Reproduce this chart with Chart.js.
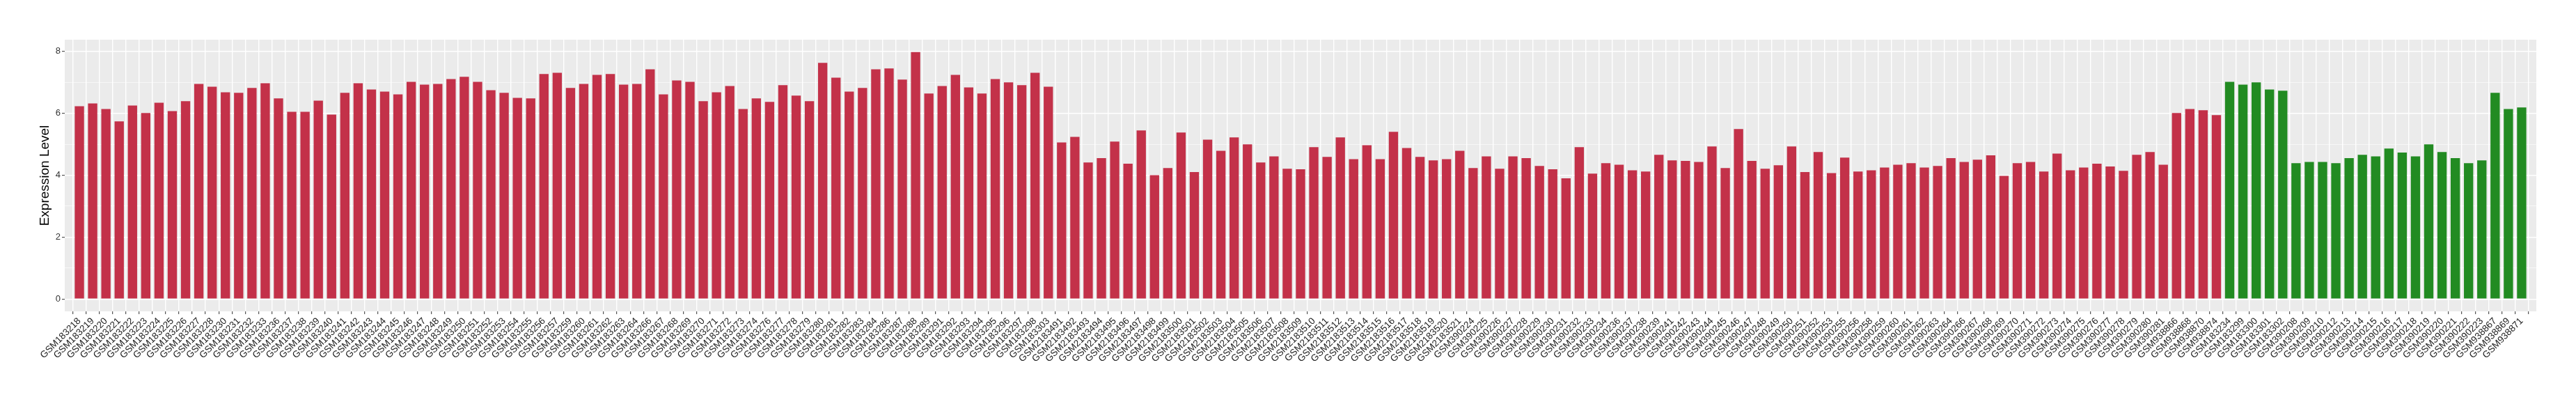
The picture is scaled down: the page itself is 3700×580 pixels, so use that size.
<!DOCTYPE html>
<html>
<head>
<meta charset="utf-8">
<script src="https://cdn.jsdelivr.net/npm/chart.js@4.4.0/dist/chart.umd.min.js"></script>
<style>
  html, body { margin: 0; padding: 0; background: #fff; }
  #wrap { width: 3700px; height: 580px; }
</style>
</head>
<body>
<div id="wrap"><canvas id="myChart" width="3700" height="580"></canvas></div>
<script>
const redSamples = [
    'GSM183218', 'GSM183219', 'GSM183220', 'GSM183221', 'GSM183222', 'GSM183223', 'GSM183224', 'GSM183225', 'GSM183226', 'GSM183227',
    'GSM183228', 'GSM183230', 'GSM183231', 'GSM183232', 'GSM183233', 'GSM183236', 'GSM183237', 'GSM183238', 'GSM183239', 'GSM183240',
    'GSM183241', 'GSM183242', 'GSM183243', 'GSM183244', 'GSM183245', 'GSM183246', 'GSM183247', 'GSM183248', 'GSM183249', 'GSM183250',
    'GSM183251', 'GSM183252', 'GSM183253', 'GSM183254', 'GSM183255', 'GSM183256', 'GSM183257', 'GSM183259', 'GSM183260', 'GSM183261',
    'GSM183262', 'GSM183263', 'GSM183264', 'GSM183266', 'GSM183267', 'GSM183268', 'GSM183269', 'GSM183270', 'GSM183271', 'GSM183272',
    'GSM183273', 'GSM183274', 'GSM183276', 'GSM183277', 'GSM183278', 'GSM183279', 'GSM183280', 'GSM183281', 'GSM183282', 'GSM183283',
    'GSM183284', 'GSM183286', 'GSM183287', 'GSM183288', 'GSM183289', 'GSM183291', 'GSM183292', 'GSM183293', 'GSM183294', 'GSM183295',
    'GSM183296', 'GSM183297', 'GSM183298', 'GSM183303', 'GSM2183491', 'GSM2183492', 'GSM2183493', 'GSM2183494', 'GSM2183495', 'GSM2183496',
    'GSM2183497', 'GSM2183498', 'GSM2183499', 'GSM2183500', 'GSM2183501', 'GSM2183502', 'GSM2183503', 'GSM2183504', 'GSM2183505', 'GSM2183506',
    'GSM2183507', 'GSM2183508', 'GSM2183509', 'GSM2183510', 'GSM2183511', 'GSM2183512', 'GSM2183513', 'GSM2183514', 'GSM2183515', 'GSM2183516',
    'GSM2183517', 'GSM2183518', 'GSM2183519', 'GSM2183520', 'GSM2183521', 'GSM390224', 'GSM390225', 'GSM390226', 'GSM390227', 'GSM390228',
    'GSM390229', 'GSM390230', 'GSM390231', 'GSM390232', 'GSM390233', 'GSM390234', 'GSM390236', 'GSM390237', 'GSM390238', 'GSM390239',
    'GSM390241', 'GSM390242', 'GSM390243', 'GSM390244', 'GSM390245', 'GSM390246', 'GSM390247', 'GSM390248', 'GSM390249', 'GSM390250',
    'GSM390251', 'GSM390252', 'GSM390253', 'GSM390255', 'GSM390256', 'GSM390258', 'GSM390259', 'GSM390260', 'GSM390261', 'GSM390262',
    'GSM390263', 'GSM390264', 'GSM390266', 'GSM390267', 'GSM390268', 'GSM390269', 'GSM390270', 'GSM390271', 'GSM390272', 'GSM390273',
    'GSM390274', 'GSM390275', 'GSM390276', 'GSM390277', 'GSM390278', 'GSM390279', 'GSM390280', 'GSM390281', 'GSM938866', 'GSM938868',
    'GSM938870', 'GSM938874'
];
const redValues = [
    6.23, 6.32, 6.14, 5.74, 6.25, 6.01, 6.34, 6.07, 6.39, 6.95,
    6.86, 6.68, 6.66, 6.82, 6.97, 6.48, 6.05, 6.05, 6.41, 5.96,
    6.66, 6.97, 6.77, 6.70, 6.61, 7.02, 6.93, 6.95, 7.11, 7.18,
    7.02, 6.75, 6.66, 6.50, 6.48, 7.27, 7.31, 6.82, 6.95, 7.24,
    7.27, 6.93, 6.95, 7.42, 6.61, 7.06, 7.02, 6.39, 6.68, 6.88,
    6.14, 6.48, 6.37, 6.91, 6.57, 6.39, 7.63, 7.15, 6.70, 6.82,
    7.42, 7.45, 7.09, 7.98, 6.64, 6.88, 7.24, 6.84, 6.64, 7.11,
    7.00, 6.91, 7.31, 6.86, 5.06, 5.24, 4.41, 4.55, 5.09, 4.37,
    5.45, 4.00, 4.23, 5.38, 4.10, 5.15, 4.79, 5.22, 5.00, 4.41,
    4.61, 4.21, 4.19, 4.91, 4.59, 5.22, 4.52, 4.97, 4.52, 5.40,
    4.88, 4.59, 4.48, 4.52, 4.79, 4.23, 4.61, 4.21, 4.61, 4.55,
    4.30, 4.19, 3.90, 4.91, 4.05, 4.39, 4.34, 4.16, 4.12, 4.66,
    4.48, 4.46, 4.43, 4.93, 4.23, 5.49, 4.46, 4.21, 4.32, 4.93,
    4.10, 4.75, 4.07, 4.57, 4.12, 4.16, 4.25, 4.34, 4.39, 4.25,
    4.30, 4.55, 4.43, 4.50, 4.64, 3.98, 4.39, 4.43, 4.12, 4.70,
    4.16, 4.25, 4.37, 4.28, 4.14, 4.66, 4.75, 4.34, 6.01, 6.14,
    6.10, 5.94
];
const greenSamples = [
    'GSM183234', 'GSM183299', 'GSM183300', 'GSM183301', 'GSM183302', 'GSM390208', 'GSM390209', 'GSM390210', 'GSM390212', 'GSM390213',
    'GSM390214', 'GSM390215', 'GSM390216', 'GSM390217', 'GSM390218', 'GSM390219', 'GSM390220', 'GSM390221', 'GSM390222', 'GSM390223',
    'GSM938867', 'GSM938869', 'GSM938871'
];
const greenValues = [
    7.02, 6.93, 7.00, 6.77, 6.73, 4.39, 4.43, 4.43, 4.39, 4.55,
    4.66, 4.61, 4.86, 4.73, 4.61, 5.00, 4.75, 4.55, 4.39, 4.48,
    6.66, 6.14, 6.19
];
const yTicks = [0, 2, 4, 6, 8];

const samples = redSamples.concat(greenSamples);
const values = redValues.concat(greenValues);
const colors = redSamples.map(() => '#C33149').concat(greenSamples.map(() => '#228B22'));

// ggplot style expansion: 0.6 units on discrete x, 5% on y
const yMax = Math.max(...values);
const yPad = yMax * 0.05;

const panelBg = {
    id: 'panelBg',
    beforeDraw(chart) {
        const a = chart.chartArea;
        const c = chart.ctx;
        c.save();
        c.fillStyle = '#EBEBEB';
        c.fillRect(a.left, a.top, a.right - a.left, a.bottom - a.top);
        c.restore();
    }
};

const ctx = document.getElementById('myChart');
const myChart = new Chart(ctx, {
    type: 'bar',
    data: {
        datasets: [{
            data: values.map((v, i) => ({ x: i, y: v })),
            backgroundColor: colors,
            borderWidth: 0,
            barPercentage: 0.7,
            categoryPercentage: 1.0
        }]
    },
    plugins: [panelBg],
    options: {
        responsive: false,
        animation: false,
        layout: { padding: { left: 0, right: 57, top: 57, bottom: 0 } },
        plugins: { legend: { display: false }, tooltip: { enabled: false } },
        scales: {
            x: {
                type: 'linear',
                min: -0.6,
                max: samples.length - 1 + 0.6,
                afterBuildTicks: (scale) => { scale.ticks = samples.map((s, i) => ({ value: i })); },
                afterFit: (scale) => { scale.height = 133; },
                border: { display: false },
                grid: {
                    color: '#FFFFFF',
                    lineWidth: 1.4,
                    drawTicks: true,
                    tickLength: 4,
                    tickColor: '#333333',
                    tickWidth: 1
                },
                ticks: {
                    autoSkip: false,
                    maxRotation: 45,
                    minRotation: 45,
                    padding: 2,
                    color: '#222222',
                    font: { family: '"Liberation Sans", Arial, sans-serif', size: 13.5 },
                    callback: (value) => samples[value]
                }
            },
            y: {
                min: -yPad,
                max: yMax + yPad,
                afterBuildTicks: (scale) => {
                    const t = [];
                    for (let v = 0; v <= 8; v++) t.push({ value: v });
                    scale.ticks = t;
                },
                afterFit: (scale) => { scale.width = 93; },
                border: { display: false },
                grid: {
                    color: (c) => yTicks.includes(c.tick.value) ? '#FFFFFF' : 'rgba(255,255,255,0.75)',
                    lineWidth: (c) => yTicks.includes(c.tick.value) ? 1.4 : 0.8,
                    drawTicks: true,
                    tickLength: 4,
                    tickColor: (c) => yTicks.includes(c.tick.value) ? '#333333' : 'rgba(0,0,0,0)',
                    tickWidth: 1
                },
                ticks: {
                    padding: 2,
                    color: '#333333',
                    font: { family: '"Liberation Sans", Arial, sans-serif', size: 13 },
                    callback: (value) => yTicks.includes(value) ? String(value) : ''
                },
                title: {
                    display: true,
                    text: 'Expression Level',
                    color: '#000000',
                    font: { family: '"Liberation Sans", Arial, sans-serif', size: 19 },
                    padding: { top: 53, bottom: 0 }
                }
            }
        }
    }
});
</script>
</body>
</html>
